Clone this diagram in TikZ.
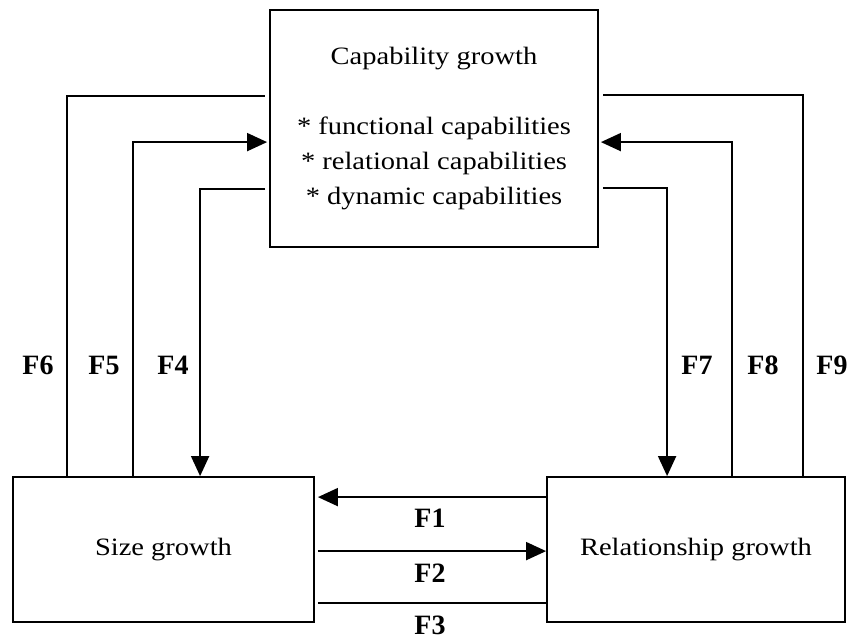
\documentclass[tikz,border=0pt]{standalone}
\usepackage{fontspec}
\setmainfont{Liberation Serif}
\newfontfamily\boxfont{Liberation Serif}[FakeStretch = 1.14]
\usetikzlibrary{calc, arrows.meta}

\begin{document}
\begin{tikzpicture}[x = 1pt, y = -1pt,
 box/.style = {draw, line width = 1.8pt, inner sep = 0pt, font = \boxfont\fontsize{25}{35}\selectfont},
 link/.style = {line width = 1.8pt},
 head/.style = {link, -{Triangle[length = 20pt, width = 18pt]}},
 flow/.style = {font = \bfseries\fontsize{28}{30}\selectfont}]
\useasboundingbox (0, 0) rectangle (852, 640);
\node[box, minimum width = 328pt, minimum height = 237pt, align = center] (cap) at (434, 128.5)
 {Capability growth\\[35pt] * functional capabilities\\ * relational capabilities\\ * dynamic capabilities};
\node[box, minimum width = 301pt, minimum height = 145pt] (size) at (163.5, 549.5) {Size growth};
\node[box, minimum width = 298pt, minimum height = 145pt] (rel) at (696, 549.5) {Relationship growth};

% left side
\draw[link] ($(size.north west)+(55, 0)$) |- ($(cap.north west)+(-4, 87)$);
\draw[head] ($(size.north west)+(121, 0)$) |- ($(cap.north west)+(-2, 133)$);
\draw[head] ($(cap.north west)+(-4, 180)$) -| ($(size.north west)+(188, 0)$);
% right side
\draw[head] ($(cap.north east)+(4, 179)$) -| ($(rel.north west)+(121, 0)$);
\draw[head] ($(rel.north west)+(186, 0)$) |- ($(cap.north east)+(2, 133)$);
\draw[link] ($(rel.north west)+(257, 0)$) |- ($(cap.north east)+(4, 86)$);
% bottom
\draw[head] ($(rel.north west)+(0, 21)$) -- ($(size.north east)+(3, 21)$);
\draw[head] ($(size.north east)+(3, 75)$) -- ($(rel.north west)+(0, 75)$);
\draw[link] ($(size.north east)+(3, 127)$) -- ($(rel.north west)+(0, 127)$);

\node[flow] (F1) at (430, 518) {F1};
\node[flow] (F2) at (430, 573) {F2};
\node[flow] (F3) at (430, 625) {F3};
\node[flow] (F4) at (173, 365) {F4};
\node[flow] (F5) at (104, 365) {F5};
\node[flow] (F6) at (38, 365) {F6};
\node[flow] (F7) at (697, 365) {F7};
\node[flow] (F8) at (763, 365) {F8};
\node[flow] (F9) at (832, 365) {F9};
\end{tikzpicture}
\end{document}
